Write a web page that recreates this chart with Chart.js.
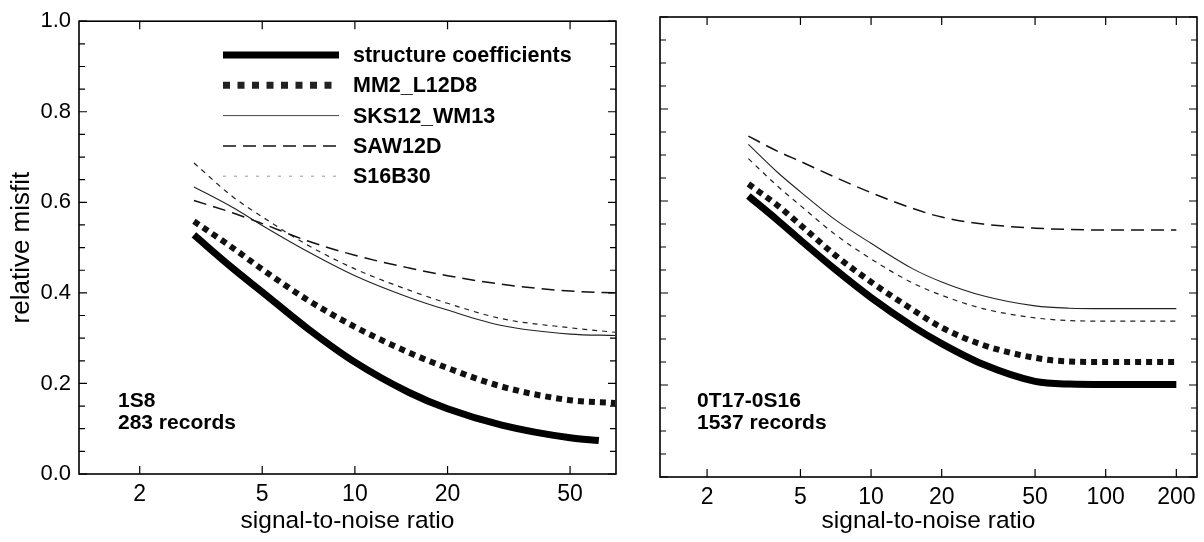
<!DOCTYPE html>
<html>
<head>
<meta charset="utf-8">
<script src="https://cdn.jsdelivr.net/npm/chart.js@4"></script>
<style>
  body { margin: 0; background: #fff; }
  #wrap { position: relative; width: 1204px; height: 542px; }
  #leftChart { position: absolute; left: 0; top: 0; }
  #rightChart { position: absolute; left: 640px; top: 0; }
</style>
</head>
<body>
<div id="wrap">
  <canvas id="leftChart" width="640" height="542"></canvas>
  <canvas id="rightChart" width="564" height="542"></canvas>
</div>
<script>
// data (log x = signal-to-noise ratio, y = relative misfit)
const seriesNames = ["structure coefficients", "MM2_L12D8", "SKS12_WM13", "SAW12D", "S16B30"];

const snrLeft = [3, 4, 5, 7, 10, 15, 20, 30, 50, 70];
const snrLeftStruct = [3, 4, 5, 7, 10, 15, 20, 30, 50, 62];
const structLeft = [0.528, 0.455, 0.402, 0.322, 0.247, 0.180, 0.144, 0.108, 0.080, 0.074];
const mmLeft     = [0.558, 0.500, 0.452, 0.385, 0.325, 0.268, 0.234, 0.193, 0.163, 0.157];
const sksLeft    = [0.634, 0.589, 0.549, 0.492, 0.438, 0.390, 0.362, 0.328, 0.309, 0.306];
const sawLeft    = [0.604, 0.577, 0.553, 0.515, 0.483, 0.455, 0.438, 0.419, 0.404, 0.400];
const s16Left    = [0.687, 0.613, 0.568, 0.506, 0.453, 0.406, 0.377, 0.343, 0.323, 0.313];

const snrRight = [3, 4, 5, 7, 10, 15, 20, 30, 50, 70, 100, 200];
const structRight = [0.611, 0.558, 0.515, 0.452, 0.390, 0.328, 0.290, 0.245, 0.208, 0.202, 0.201, 0.201];
const mmRight     = [0.637, 0.590, 0.548, 0.483, 0.424, 0.364, 0.325, 0.287, 0.259, 0.251, 0.250, 0.250];
const sksRight    = [0.723, 0.662, 0.620, 0.560, 0.508, 0.453, 0.424, 0.394, 0.372, 0.367, 0.366, 0.366];
const sawRight    = [0.741, 0.708, 0.686, 0.652, 0.618, 0.584, 0.565, 0.550, 0.541, 0.538, 0.537, 0.537];
const s16Right    = [0.692, 0.632, 0.590, 0.528, 0.474, 0.422, 0.395, 0.366, 0.346, 0.340, 0.339, 0.339];

const xTicksLeft = [2, 5, 10, 20, 50];
const xTicksRight = [2, 5, 10, 20, 50, 100, 200];
const yTicks = [0, 0.2, 0.4, 0.6, 0.8, 1.0];
const yMinorStep = 0.05;

Chart.defaults.font.family = '"Liberation Sans", Arial, sans-serif';
Chart.defaults.color = '#000';

const styles = [
    { borderWidth: 7, borderDash: [], borderColor: '#000' },
    { borderWidth: 6, borderDash: [6, 5], borderColor: '#111' },
    { borderWidth: 1.1, borderDash: [], borderColor: '#222' },
    { borderWidth: 1.5, borderDash: [13, 7], borderColor: '#111' },
    { borderWidth: 1.2, borderDash: [5, 5], borderColor: '#222' }
];
// legend samples as printed in the key
const legendSamples = [
    { width: 7, dash: [], color: '#000' },
    { width: 7, dash: [7, 7.5], color: '#222' },
    { width: 1, dash: [], color: '#444' },
    { width: 1.5, dash: [13, 7], color: '#111' },
    { width: 1, dash: [3, 8], color: '#999' }
];

function pts(xs, ys) {
    return xs.map((x, i) => ({ x: x, y: ys[i] }));
}

function makeSets(list) {
    return list.map((d, i) => Object.assign({
        label: seriesNames[i],
        data: d,
        pointRadius: 0,
        fill: false,
        borderCapStyle: 'butt',
        cubicInterpolationMode: 'monotone'
    }, styles[i]));
}

// frame + inward ticks on all four sides
const frameTicks = {
    id: 'frameTicks',
    afterDraw(chart, args, opts) {
        const { ctx, chartArea: a } = chart;
        const x = chart.scales.x, y = chart.scales.y;
        ctx.save();
        ctx.strokeStyle = '#000';
        ctx.lineWidth = 1.6;
        ctx.strokeRect(a.left, a.top, a.right - a.left, a.bottom - a.top);
        ctx.lineWidth = 1.2;
        ctx.beginPath();
        const n = Math.round(1 / yMinorStep);
        for (let i = 0; i <= n; i++) {
            const py = y.getPixelForValue(i * yMinorStep);
            const len = i % 4 === 0 ? 8 : 6;
            ctx.moveTo(a.left, py); ctx.lineTo(a.left + len, py);
            ctx.moveTo(a.right, py); ctx.lineTo(a.right - len, py);
        }
        opts.xTicks.forEach(v => {
            const px = x.getPixelForValue(v);
            ctx.moveTo(px, a.bottom); ctx.lineTo(px, a.bottom - 8);
            ctx.moveTo(px, a.top); ctx.lineTo(px, a.top + 8);
        });
        ctx.stroke();
        ctx.restore();
    }
};

const notes = {
    id: 'notes',
    afterDraw(chart, args, opts) {
        const ctx = chart.ctx;
        ctx.save();
        ctx.fillStyle = '#000';
        ctx.font = 'bold 21px "Liberation Sans", Arial, sans-serif';
        ctx.textBaseline = 'alphabetic';
        opts.lines.forEach((t, i) => ctx.fillText(t, opts.x, opts.y + i * 22));
        ctx.restore();
    }
};

const keyBox = {
    id: 'keyBox',
    afterDraw(chart, args, opts) {
        if (!opts.show) return;
        const ctx = chart.ctx;
        ctx.save();
        chart.data.datasets.forEach((ds, i) => {
            const s = legendSamples[i];
            const yy = opts.top + i * opts.step;
            ctx.beginPath();
            ctx.lineWidth = s.width;
            ctx.strokeStyle = s.color;
            ctx.setLineDash(s.dash);
            ctx.moveTo(opts.x1, yy);
            ctx.lineTo(opts.x2, yy);
            ctx.stroke();
            ctx.setLineDash([]);
            ctx.fillStyle = '#000';
            ctx.font = 'bold 21.5px "Liberation Sans", Arial, sans-serif';
            ctx.textBaseline = 'middle';
            ctx.fillText(ds.label, opts.textX, yy + 1);
        });
        ctx.restore();
    }
};

function xAxis(min, max, tickList, h) {
    return {
        type: 'logarithmic',
        min: min,
        max: max,
        grid: { display: false, drawTicks: false },
        border: { display: false },
        afterBuildTicks: s => { s.ticks = tickList.map(v => ({ value: v })); },
        afterFit: s => { s.height = h; },
        ticks: {
            autoSkip: false, maxRotation: 0, minRotation: 0, padding: 7,
            font: { size: 23 },
            callback: v => String(v)
        },
        title: {
            display: true,
            text: 'signal-to-noise ratio',
            font: { size: 24.5 },
            padding: { top: 0, bottom: 6 }
        }
    };
}

new Chart(document.getElementById('leftChart'), {
    type: 'line',
    data: {
        datasets: makeSets([
            pts(snrLeftStruct, structLeft),
            pts(snrLeft, mmLeft),
            pts(snrLeft, sksLeft),
            pts(snrLeft, sawLeft),
            pts(snrLeft, s16Left)
        ])
    },
    options: {
        responsive: false,
        animation: false,
        layout: { padding: { top: 15, right: 24, left: 0, bottom: 0 } },
        plugins: {
            legend: { display: false },
            tooltip: { enabled: false },
            frameTicks: { xTicks: xTicksLeft },
            notes: { x: 118, y: 407, lines: ['1S8', '283 records'] },
            keyBox: { show: true, x1: 223, x2: 339, textX: 353, top: 55, step: 30.3 }
        },
        scales: {
            x: xAxis(1.27, 70.5, xTicksLeft, 68),
            y: {
                min: 0,
                max: 1,
                grid: { display: false, drawTicks: false },
                border: { display: false },
                afterBuildTicks: s => { s.ticks = yTicks.map(v => ({ value: v })); },
                afterFit: s => { s.width = 79; },
                ticks: { padding: 8, font: { size: 22 }, callback: v => Number(v).toFixed(1) },
                title: {
                    display: true,
                    text: 'relative misfit',
                    font: { size: 26 },
                    padding: { top: 6, bottom: 0 }
                }
            }
        }
    },
    plugins: [frameTicks, notes, keyBox]
});

new Chart(document.getElementById('rightChart'), {
    type: 'line',
    data: {
        datasets: makeSets([
            pts(snrRight, structRight),
            pts(snrRight, mmRight),
            pts(snrRight, sksRight),
            pts(snrRight, sawRight),
            pts(snrRight, s16Right)
        ])
    },
    options: {
        responsive: false,
        animation: false,
        layout: { padding: { top: 17, right: 7, left: 20, bottom: 0 } },
        plugins: {
            legend: { display: false },
            tooltip: { enabled: false },
            frameTicks: { xTicks: xTicksRight },
            notes: { x: 57, y: 407, lines: ['0T17-0S16', '1537 records'] },
            keyBox: { show: false }
        },
        scales: {
            x: xAxis(1.26, 245, xTicksRight, 65),
            y: { min: 0, max: 1, display: false }
        }
    },
    plugins: [frameTicks, notes, keyBox]
});
</script>
</body>
</html>
